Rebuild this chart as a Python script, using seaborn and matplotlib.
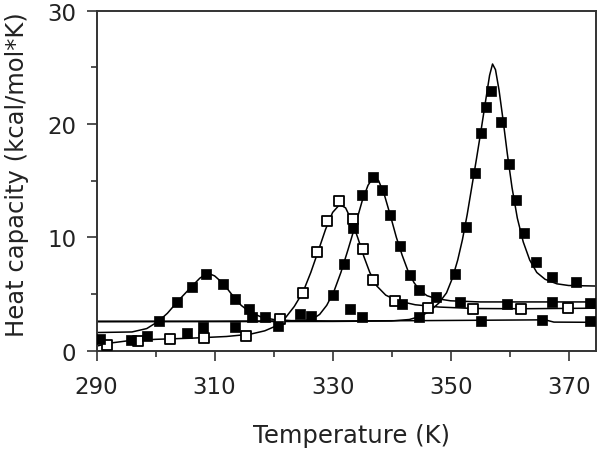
import matplotlib
matplotlib.use("Agg")
import matplotlib.pyplot as plt
import seaborn as sns
import pandas as pd
from matplotlib.ticker import MultipleLocator

# ---- data ----
# Dataset A (filled squares, peak ~309 K)
a_T = [300.6, 303.7, 306.1, 308.6, 311.5, 313.4, 315.9, 316.3, 318.5, 341.7, 355.2, 365.4, 373.6]
a_Cp = [2.63, 4.26, 5.58, 6.76, 5.87, 4.55, 3.67, 3.0, 2.95, 4.1, 2.63, 2.72, 2.63]
a_fit_T = [290, 296, 298.5, 300.5, 302, 304, 306, 307.5, 308.8, 310, 311.5, 313, 314.5, 316,
           318, 320, 323, 330, 345, 366, 367.5, 375]
a_fit_Cp = [1.6, 1.65, 1.95, 2.6, 3.3, 4.5, 5.6, 6.4, 6.85, 6.6, 5.9, 4.9, 4.0, 3.4,
            2.95, 2.75, 2.65, 2.62, 2.65, 2.72, 2.52, 2.5]

# Dataset B (open squares, peak ~331 K)
b_T = [291.7, 297.1, 302.4, 308.2, 315.4, 321.1, 325.0, 327.3, 329.1, 331.0, 333.5, 335.2,
       336.9, 340.6, 346.2, 353.8, 362.0, 369.9]
b_Cp = [0.49, 0.87, 1.0, 1.16, 1.3, 2.78, 5.1, 8.7, 11.4, 13.2, 11.6, 9.0,
        6.2, 4.4, 3.8, 3.67, 3.67, 3.8]
b_fit_T = [290, 292, 295, 300, 306, 312, 316, 318.5, 320.5, 322, 323.5, 325, 326.3, 327.5,
           328.8, 330, 331.2, 332.2, 333.3, 334.3, 335.3, 336.3, 337.5, 339, 341, 344, 348,
           354, 362, 375]
b_fit_Cp = [0.4, 0.65, 0.85, 1.0, 1.1, 1.25, 1.45, 1.75, 2.2, 2.9, 3.9, 5.2, 6.9, 8.7,
            10.7, 12.2, 12.9, 12.6, 11.4, 9.9, 8.3, 6.9, 5.7, 4.9, 4.4, 4.05, 3.85,
            3.72, 3.7, 3.75]

# Dataset C (filled squares, peak ~337 K)
c_T = [290.6, 295.9, 298.5, 305.3, 308.0, 313.4, 320.8, 324.4, 326.4, 330.1, 331.9, 333.5,
       334.9, 336.8, 338.4, 339.7, 341.4, 343.1, 344.7, 347.6, 351.6, 359.5, 367.1, 373.6]
c_Cp = [1.0, 0.95, 1.3, 1.6, 2.05, 2.05, 2.2, 3.2, 3.1, 4.9, 7.64, 10.8,
        13.7, 15.35, 14.2, 12.0, 9.26, 6.67, 5.37, 4.7, 4.26, 4.1, 4.26, 4.2]
c_fit_T = [290, 300, 310, 320, 325, 326.5, 327.8, 329, 330.2, 331.4, 332.6, 333.8, 335, 336,
           336.9, 337.8, 338.8, 339.8, 340.8, 341.8, 342.8, 343.8, 344.8, 346, 347.5, 350,
           355, 375]
c_fit_Cp = [2.6, 2.6, 2.6, 2.62, 2.65, 2.75, 3.2, 4.0, 5.2, 6.9, 8.9, 11.0, 13.2, 14.6,
            15.3, 15.0, 13.7, 11.9, 10.0, 8.4, 7.0, 6.0, 5.3, 4.85, 4.6, 4.4, 4.3, 4.3]

# Dataset D (filled squares, peak ~357 K)
d_T = [332.9, 334.9, 344.6, 350.7, 352.6, 354.1, 355.1, 356.0, 356.8, 358.5, 359.9, 361.1,
       362.4, 364.5, 367.1, 371.2]
d_Cp = [3.67, 2.93, 2.93, 6.76, 10.9, 15.7, 19.2, 21.5, 22.9, 20.2, 16.5, 13.3,
        10.4, 7.85, 6.47, 6.1]
d_fit_T = [290, 330, 340, 343, 345, 346.5, 348, 349.3, 350.3, 351.2, 352, 352.8, 353.6, 354.4,
           355.2, 356, 356.6, 357.1, 357.6, 358.2, 358.9, 359.6, 360.4, 361.3, 362.3, 363.4,
           364.6, 366, 368, 370, 375]
d_fit_Cp = [2.55, 2.58, 2.62, 2.75, 3.05, 3.5, 4.2, 5.1, 6.4, 8.0, 9.8, 12.0, 14.5, 17.0,
            19.6, 22.3, 24.3, 25.3, 24.8, 23.0, 20.3, 17.4, 14.4, 11.7, 9.6, 8.0,
            6.9, 6.3, 5.9, 5.75, 5.7]

x_ticks = [290, 310, 330, 350, 370]
y_ticks = [0, 10, 20, 30]
x_label = "Temperature (K)"
y_label = "Heat capacity (kcal/mol*K)"

# ---- build tables ----
fits = pd.concat([
    pd.DataFrame({"T": a_fit_T, "Cp": a_fit_Cp, "set": "A"}),
    pd.DataFrame({"T": b_fit_T, "Cp": b_fit_Cp, "set": "B"}),
    pd.DataFrame({"T": c_fit_T, "Cp": c_fit_Cp, "set": "C"}),
    pd.DataFrame({"T": d_fit_T, "Cp": d_fit_Cp, "set": "D"}),
], ignore_index=True)
filled = pd.concat([
    pd.DataFrame({"T": a_T, "Cp": a_Cp}),
    pd.DataFrame({"T": c_T, "Cp": c_Cp}),
    pd.DataFrame({"T": d_T, "Cp": d_Cp}),
], ignore_index=True)
opened = pd.DataFrame({"T": b_T, "Cp": b_Cp})

sns.set_style("ticks")
plt.rcParams["font.family"] = ["DejaVu Sans"]

fig = plt.figure(figsize=(6.0, 4.52), dpi=100)
ax = fig.add_axes([0.161, 0.222, 0.832, 0.752])

sns.lineplot(data=fits, x="T", y="Cp", units="set", estimator=None, sort=False,
             color="black", linewidth=1.1, ax=ax, zorder=2, legend=False)
sns.scatterplot(data=opened, x="T", y="Cp", marker="s", s=48, facecolor="white",
                edgecolor="black", linewidth=1.3, ax=ax, zorder=3, legend=False)
sns.scatterplot(data=filled, x="T", y="Cp", marker="s", s=56, color="black",
                edgecolor="black", linewidth=0.5, ax=ax, zorder=4, legend=False)

ax.set_xlim(290, 374.6)
ax.set_ylim(0, 30)
ax.set_xticks(x_ticks)
ax.set_yticks(y_ticks)
ax.xaxis.set_minor_locator(MultipleLocator(10))
ax.yaxis.set_minor_locator(MultipleLocator(5))

txt = "#222222"
for s in ax.spines.values():
    s.set_visible(True)
    s.set_linewidth(1.4)
    s.set_color("#333333")
ax.tick_params(which="major", direction="out", length=7.5, width=1.2, color="#333333",
               labelsize=16.5, labelcolor=txt)
ax.tick_params(axis="x", which="major", pad=10)
ax.tick_params(axis="y", which="major", pad=7)
ax.tick_params(which="minor", direction="out", length=4.5, width=1.2, color="#333333")

ax.set_xlabel(x_label, fontsize=17.5, color=txt)
ax.set_ylabel(y_label, fontsize=17.5, color=txt)
ax.xaxis.set_label_coords(0.511, -0.214)
ax.yaxis.set_label_coords(-0.136, 0.522)

fig.savefig("out.png", dpi=100)
